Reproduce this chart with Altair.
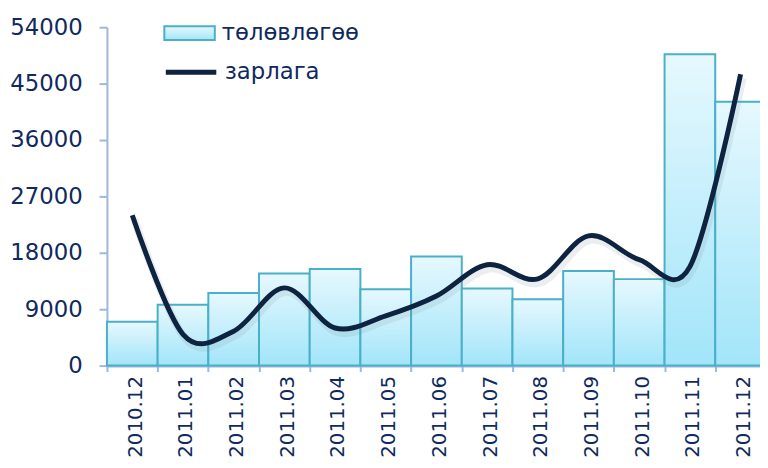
import altair as alt
import pandas as pd

months = ["2010.12", "2011.01", "2011.02", "2011.03", "2011.04", "2011.05", "2011.06",
          "2011.07", "2011.08", "2011.09", "2011.10", "2011.11", "2011.12"]
plan_values = [7000, 9700, 11600, 14700, 15400, 12200, 17400, 12300, 10600, 15100, 13800, 49700, 42100]
actual_values = [24000, 5000, 5500, 12400, 6000, 7950, 11100, 16100, 13850, 20700, 16900, 15800, 46500]
series_names = ["төлөвлөгөө", "зарлага"]
y_ticks = [0, 9000, 18000, 27000, 36000, 45000, 54000]

FONT = "DejaVu Sans"
NAVY_TXT = "#0f2a5e"
LINE_COL = "#0d2340"
BAR_STROKE = "#4aafc9"
AXIS_COL = "#9db8d8"

bar_grad = alt.LinearGradient(
    gradient="linear", x1=0, y1=0, x2=0, y2=1,
    stops=[alt.GradientStop(offset=0, color="#e6f8fe"),
           alt.GradientStop(offset=1, color="#a2e5f9")])

bars_df = pd.DataFrame({"month": months, "value": plan_values, "series": series_names[0]})
line_df = pd.DataFrame({"month": months, "value": actual_values, "series": series_names[1]})

common_legend = dict(title=None, orient="none", padding=0, symbolSize=2601, labelOffset=6,
                     labelFont=FONT, labelFontSize=23, labelColor=NAVY_TXT, labelLimit=400)

bar_legend = alt.Legend(legendX=57, legendY=-20.5, symbolType="M-1,-0.27H1V0.27H-1Z",
                        symbolStrokeWidth=2, symbolStrokeColor=BAR_STROKE,
                        symbolFillColor="#c9f1fc", **common_legend)
line_legend = alt.Legend(legendX=57, legendY=17.5, symbolType="stroke",
                         symbolStrokeWidth=5, symbolStrokeColor=LINE_COL, **common_legend)

x_enc = alt.X("month:N", sort=months, title=None,
              scale=alt.Scale(paddingInner=0, paddingOuter=0, range=[0, 666]),
              axis=alt.Axis(tickBand="extent", labelAngle=270, labelAlign="right",
                            labelBaseline="middle", labelPadding=4, tickSize=6, labelOffset=3,
                            labelFont=FONT, labelFontSize=20, labelColor=NAVY_TXT,
                            domainColor=AXIS_COL, domainWidth=3, tickColor=AXIS_COL,
                            tickWidth=2, grid=False))
y_enc = alt.Y("value:Q", title=None,
              scale=alt.Scale(domain=[0, 54000], nice=False),
              axis=alt.Axis(values=y_ticks, tickSize=8, labelPadding=17,
                            labelFont=FONT, labelFontSize=23, labelColor=NAVY_TXT,
                            domainColor=AXIS_COL, domainWidth=2, tickColor=AXIS_COL,
                            tickWidth=2, grid=False, format="d"))

bars = alt.Chart(bars_df).mark_bar(fill=bar_grad, strokeWidth=2, opacity=1).encode(
    x=x_enc, y=y_enc,
    stroke=alt.Stroke("series:N", scale=alt.Scale(domain=[series_names[0]], range=[BAR_STROKE]),
                      legend=bar_legend))

shadow = alt.Chart(line_df).mark_line(interpolate="cardinal", color="#7a8a99", opacity=0.15,
                                      strokeWidth=8, xOffset=2, yOffset=4).encode(
    x=alt.X("month:N", sort=months), y="value:Q")

line = alt.Chart(line_df).mark_line(interpolate="cardinal", strokeWidth=5, strokeCap="butt").encode(
    x=alt.X("month:N", sort=months), y="value:Q",
    stroke=alt.Stroke("series:N", scale=alt.Scale(domain=[series_names[1]], range=[LINE_COL]),
                      legend=line_legend))

chart = alt.layer(bars, shadow, line).resolve_scale(stroke="independent").properties(
    width=660, height=342,
    autosize=alt.AutoSizeParams(type="none"),
    padding={"left": 100, "top": 17, "right": 0, "bottom": 93},
).configure_view(stroke=None)

chart.save("out.html", embed_options={"renderer": "svg", "actions": False})
